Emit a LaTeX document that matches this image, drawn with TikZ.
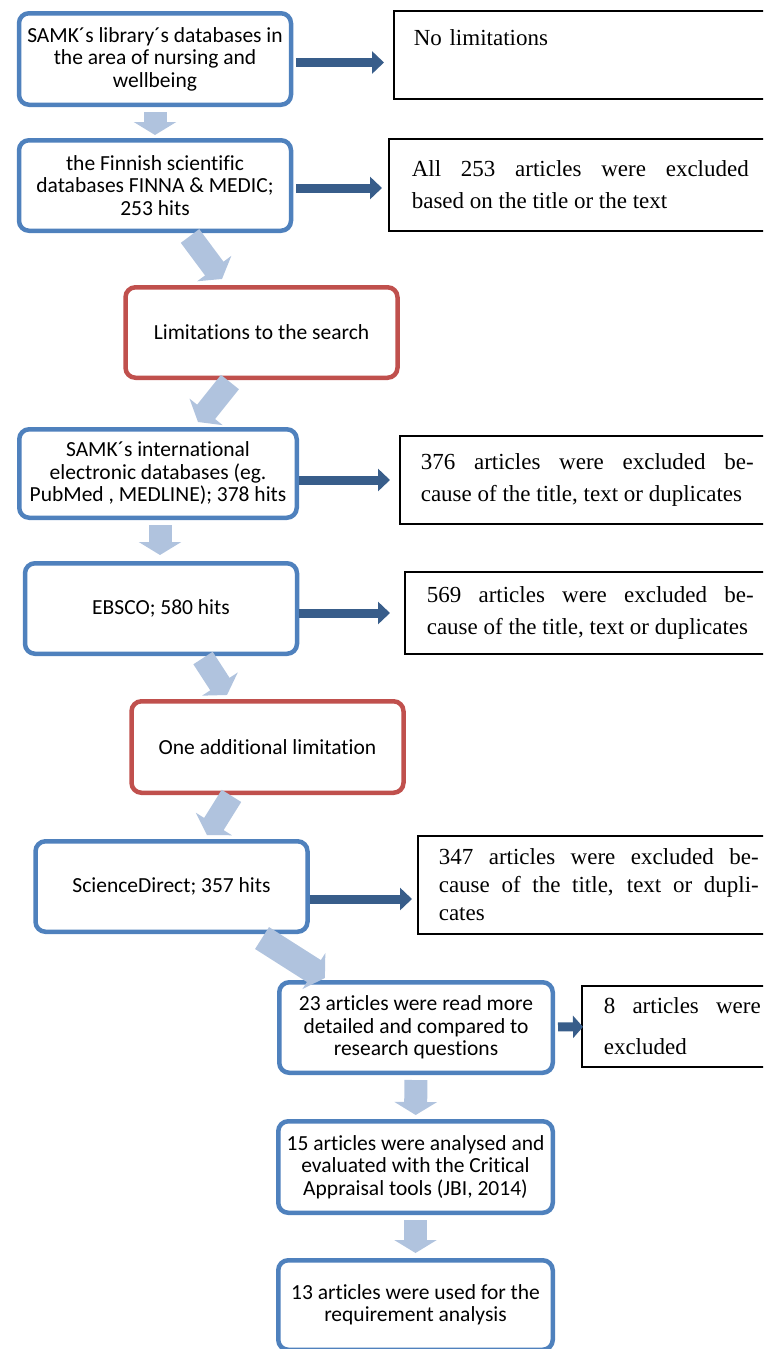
\documentclass[tikz,border=0pt]{standalone}
\usepackage{fontspec}
\setmainfont{Liberation Serif}
\newfontfamily\carlito[Ligatures=CommonOff]{Carlito}
\usetikzlibrary{arrows.meta}
\definecolor{boxblue}{RGB}{79,129,189}
\definecolor{boxred}{RGB}{192,80,77}
\definecolor{arrowlight}{RGB}{176,195,222}
\definecolor{arrowdark}{RGB}{56,93,138}
\tolerance=10000
\hbadness=10000

\begin{document}
\begin{tikzpicture}[
        x=1pt, y=-1pt,
        box/.style={draw=boxblue, line width=4.5pt, rounded corners=10pt, fill=white, align=center,
            minimum width=272pt, minimum height=90.5pt, font=\carlito\fontsize{21.5}{22.5}\selectfont},
        limit/.style={box, draw=boxred},
        note/.style={draw, line width=1.6pt, anchor=north west, align=justify, inner xsep=22pt,
            font=\fontsize{23}{32}\selectfont},
        darrow/.style={draw=arrowdark, line width=9pt, -{Triangle[width=22pt,length=12pt]}},
        larrow/.style={draw=arrowlight, line width=23pt, -{Triangle[width=42pt,length=13pt]}}
    ]
        \useasboundingbox (0,0) rectangle (763,1349);
        \clip (0,0) rectangle (763,1349);

        % Search steps
        \node[box, minimum height=91.5pt] (samk) at (155,59) {SAMK´s library´s databases in\\the area of nursing and\\wellbeing};
        \node[box] (finna) at (155,185.5) {the Finnish scientific\\databases FINNA \& MEDIC;\\253 hits};
        \node[limit] (limits) at (261.5,332.5) {Limitations to the search};
        \node[box, minimum width=277.5pt, minimum height=88.5pt] (intl) at (158,473.5) {SAMK´s international\\electronic databases (eg.\\PubMed , MEDLINE); 378 hits};
        \node[box] (ebsco) at (161,608.5) {EBSCO; 580 hits};
        \node[limit, minimum height=91.5pt] (extra) at (267.5,747) {One additional limitation};
        \node[box] (direct) at (171.5,886.5) {ScienceDirect; 357 hits};
        \node[box, minimum width=273.5pt] (read) at (416,1027.5) {23 articles were read more\\detailed and compared to\\research questions};
        \node[box, minimum width=274.5pt, minimum height=91.5pt] (judged) at (415.5,1167) {15 articles were analysed and\\evaluated with the Critical\\Appraisal tools (JBI, 2014)};
        \node[box, minimum width=274.5pt, minimum height=89.5pt] (used) at (415.5,1305) {13 articles were used for the\\requirement analysis};

        % Exclusion notes
        \node[note, inner xsep=20pt, text width=340pt, minimum height=88.4pt, align=left,
            text height=22.5pt, text depth=42.5pt] (nolim) at (393,10) {No limitations};
        \node[note, inner xsep=23pt, text width=337pt, minimum height=92.4pt] (out1) at (388,138)
            {All 253 articles were excluded\linebreak based on the title or the text};
        \node[note, inner xsep=21pt, text width=333pt, minimum height=88.4pt] (out2) at (399,435)
            {376 articles were excluded be-\linebreak cause of the title, text or duplicates};
        \node[note, text width=327pt, minimum height=82.4pt] (out3) at (404,571)
            {569 articles were excluded be-\linebreak cause of the title, text or duplicates};
        \node[note, inner xsep=21pt, text width=320pt, minimum height=98.4pt, font=\fontsize{23}{28}\selectfont] (out4) at (417,835)
            {347 articles were excluded be-\linebreak cause of the title, text or dupli-\linebreak cates};
        \node[note, text width=157pt, minimum height=81.4pt, font=\fontsize{23}{41}\selectfont] (out5) at (581,985)
            {8 articles were\linebreak excluded};

        % Flow between steps
        \draw[larrow, shorten <=5pt, shorten >=3pt] (samk) -- (finna);
        \draw[larrow, shorten <=3.7pt, shorten >=7.5pt] ([xshift=32.8pt]finna.south) -- ([xshift=-35pt]limits.north);
        \draw[larrow, shorten <=2.6pt, shorten >=6.4pt] ([xshift=-29.9pt]limits.south) -- ([xshift=36pt]intl.north);
        \draw[larrow, shorten <=5pt, shorten >=6pt] ([xshift=2pt]intl.south) -- ([xshift=-1pt]ebsco.north);
        \draw[larrow, shorten <=2.4pt, shorten >=4.8pt] ([xshift=40.7pt]ebsco.south) -- ([xshift=-37.9pt]extra.north);
        \draw[larrow, shorten <=1pt, shorten >=4.7pt] ([xshift=-35.5pt]extra.south) -- ([xshift=33pt]direct.north);
        \draw[larrow, line width=26pt, shorten <=7.5pt, shorten >=3.7pt] ([xshift=84.2pt]direct.south) -- ([xshift=-88pt]read.north);
        \draw[larrow, shorten <=5pt, shorten >=4pt] (read) -- (judged);
        \draw[larrow, shorten <=5pt, shorten >=5pt] (judged) -- (used);

        % Exclusions
        \draw[darrow, shorten <=3pt, shorten >=9pt] ([yshift=-3.5pt]samk.east) -- ([yshift=-3.5pt]samk.east -| nolim.west);
        \draw[darrow, shorten <=3pt, shorten >=6pt] ([yshift=-2.5pt]finna.east) -- ([yshift=-2.5pt]finna.east -| out1.west);
        \draw[darrow, shorten >=9pt] ([yshift=-6.5pt]intl.east) -- ([yshift=-6.5pt]intl.east -| out2.west);
        \draw[darrow, shorten >=14pt] ([yshift=-4.5pt]ebsco.east) -- ([yshift=-4.5pt]ebsco.east -| out3.west);
        \draw[darrow, shorten >=5pt] ([yshift=-12.5pt]direct.east) -- ([yshift=-12.5pt]direct.east -| out4.west);
        \draw[darrow, -{Triangle[width=22pt,length=10pt]}, shorten <=3pt, shorten >=-2pt] (read) -- (out5);
    \end{tikzpicture}
\end{document}
